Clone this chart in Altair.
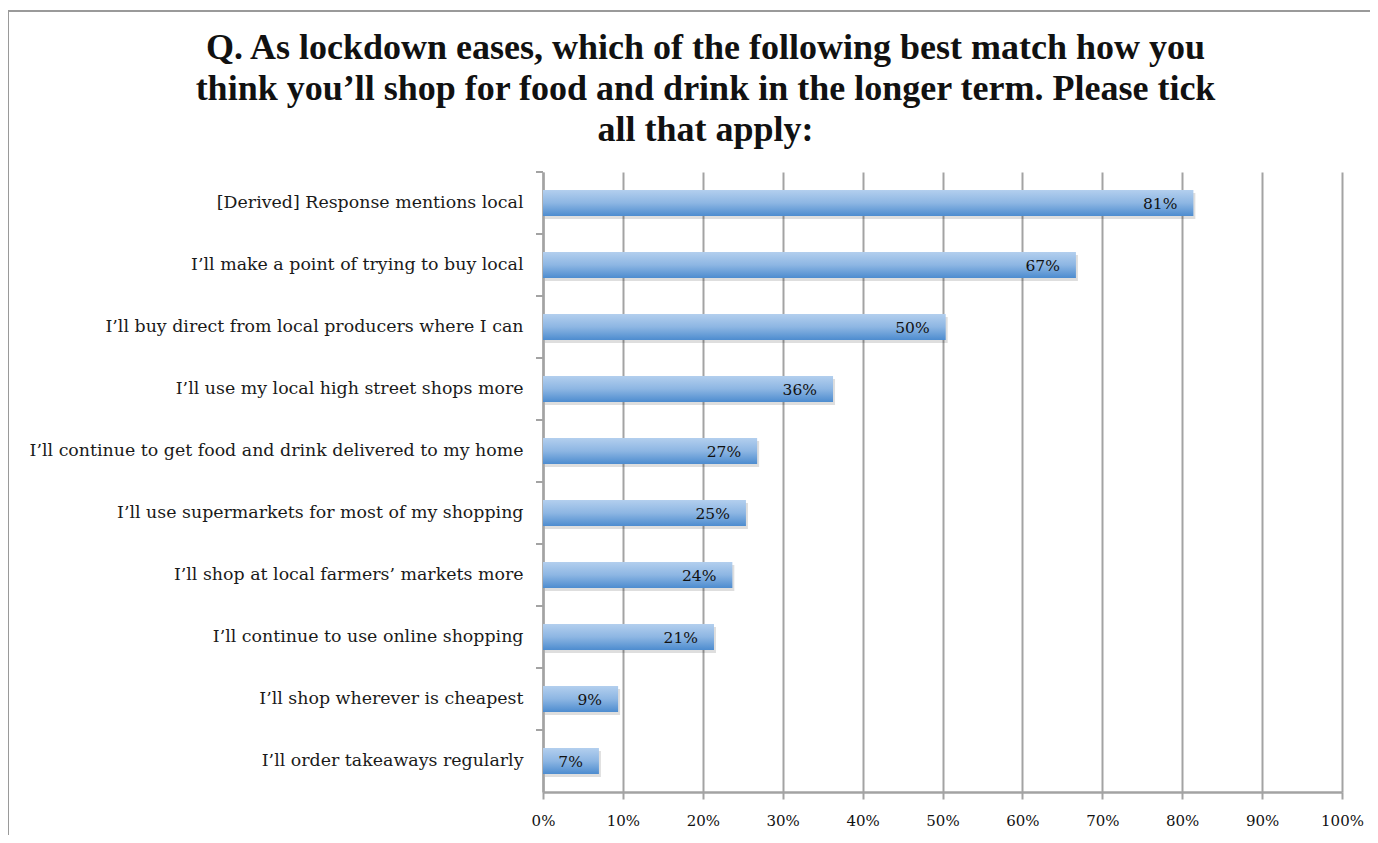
import altair as alt
import pandas as pd

categories = [
    "[Derived] Response mentions local",
    "I\u2019ll make a point of trying to buy local",
    "I\u2019ll buy direct from local producers where I can",
    "I\u2019ll use my local high street shops more",
    "I\u2019ll continue to get food and drink delivered to my home",
    "I\u2019ll use supermarkets for most of my shopping",
    "I\u2019ll shop at local farmers\u2019 markets more",
    "I\u2019ll continue to use online shopping",
    "I\u2019ll shop wherever is cheapest",
    "I\u2019ll order takeaways regularly",
]
values = [0.814, 0.667, 0.504, 0.363, 0.268, 0.254, 0.237, 0.214, 0.094, 0.070]
labels = ["81%", "67%", "50%", "36%", "27%", "25%", "24%", "21%", "9%", "7%"]

title_lines = [
    "Q. As lockdown eases, which of the following best match how you",
    "think you\u2019ll shop for food and drink in the longer term. Please tick",
    "all that apply:",
]

df = pd.DataFrame({"cat": categories, "val": values, "lab": labels})

W, H = 799, 620
SERIF = "DejaVu Serif"
TITLE_FONT = "Roboto Slab, Liberation Serif"
GRID = "#a3a3a3"

y_scale = alt.Scale(domain=categories, paddingInner=0.58, paddingOuter=0.29)
x_scale = alt.Scale(domain=[0, 1], nice=False)

x_axis = alt.Axis(
    format=".0%", values=[i / 10 for i in range(11)], title=None,
    grid=True, gridColor=GRID, gridWidth=2, labelFlush=False,
    domainColor=GRID, domainWidth=2.5, tickColor=GRID, tickWidth=2, tickSize=7,
    labelFont=SERIF, labelFontSize=15, labelColor="#111", labelPadding=14,
)
y_axis = alt.Axis(
    title=None, ticks=False, domainColor=GRID, domainWidth=2.5,
    labelFont=SERIF, labelFontSize=17.4, labelColor="#1a1a1a",
    labelPadding=20, labelLimit=600,
)

base = alt.Chart(df)

shadow = base.mark_bar(color="#000000", opacity=0.13, xOffset=2, yOffset=3).encode(
    x=alt.X("val:Q", scale=x_scale, axis=x_axis),
    y=alt.Y("cat:N", scale=y_scale, axis=y_axis, sort=categories),
)

grad = alt.Gradient(
    gradient="linear",
    stops=[
        alt.GradientStop(color="#b3cfee", offset=0),
        alt.GradientStop(color="#8db6e3", offset=0.5),
        alt.GradientStop(color="#4d8ccf", offset=1),
    ],
    x1=0, x2=0, y1=0, y2=1,
)

bars = base.mark_bar(color=grad).encode(
    x=alt.X("val:Q", scale=x_scale, axis=x_axis),
    y=alt.Y("cat:N", scale=y_scale, axis=y_axis, sort=categories),
)

text = base.mark_text(
    align="right", baseline="middle", dx=-16, dy=1,
    font=SERIF, fontSize=15.5, color="#111",
).encode(
    x=alt.X("val:Q", scale=x_scale),
    y=alt.Y("cat:N", scale=y_scale, sort=categories),
    text="lab:N",
)

# y-axis ticks at band boundaries
yticks = base.mark_rule(color=GRID, strokeWidth=2, yOffset=-31).encode(
    y=alt.Y("cat:N", scale=y_scale, sort=categories),
    x=alt.value(-7), x2=alt.value(0),
)

# outer frame of the chart object
frame_df = pd.DataFrame({"k": [0]})
frame_left = alt.Chart(frame_df).mark_rule(color="#9a9a9a", strokeWidth=2).encode(
    x=alt.value(-535), y=alt.value(-161), y2=alt.value(H + 60),
)
frame_top = alt.Chart(frame_df).mark_rule(color="#9a9a9a", strokeWidth=2).encode(
    x=alt.value(-536), x2=alt.value(W + 60), y=alt.value(-161),
)

chart = alt.layer(shadow, bars, text, yticks, frame_left, frame_top).properties(
    width=W, height=H,
    padding={"left": 535, "top": 164, "right": 28, "bottom": 43},
    autosize=alt.AutoSizeParams(type="none"),
    title=alt.Title(
        text=title_lines, anchor="middle", dx=-237, offset=-139,
        font=TITLE_FONT, fontSize=36, fontWeight="bold", color="#111",
        lineHeight=41,
    ),
).configure_view(stroke=None)

chart.save("out.html", embed_options={"renderer": "svg", "actions": False})
